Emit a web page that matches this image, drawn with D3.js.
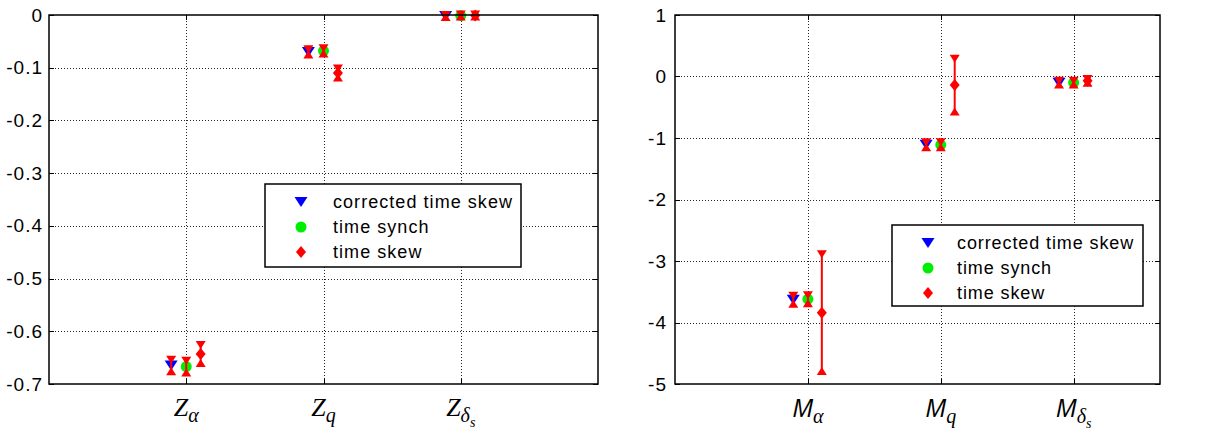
<!DOCTYPE html>
<html><head><meta charset="utf-8">
<script src="https://cdn.jsdelivr.net/npm/d3@7"></script>
<style>body{margin:0;background:#fff}svg{display:block}</style>
</head><body>
<svg id="c" width="1207" height="433"></svg>
<script>
// ---- data ----
const seriesNames = ["corrected time skew", "time synch", "time skew"];
const categories = [1, 2, 3];
const subLabels = ["α", "q", "δ"];
const subSubLabels = ["", "", "s"];

const zTicks = [0, -0.1, -0.2, -0.3, -0.4, -0.5, -0.6, -0.7];
const zTickLabels = ["0", "-0.1", "-0.2", "-0.3", "-0.4", "-0.5", "-0.6", "-0.7"];
const mTicks = [1, 0, -1, -2, -3, -4, -5];
const mTickLabels = ["1", "0", "-1", "-2", "-3", "-4", "-5"];

const zCorrected = [-0.665, -0.070, -0.002];
const zCorrectedErr = [0.011, 0.005, 0.002];
const zSynch = [-0.667, -0.068, -0.001];
const zSynchErr = [0.011, 0.005, 0.002];
const zSkew = [-0.643, -0.110, -0.001];
const zSkewErr = [0.017, 0.0085, 0.002];

const mCorrected = [-3.63, -1.11, -0.10];
const mCorrectedErr = [0.065, 0.04, 0.03];
const mSynch = [-3.62, -1.11, -0.10];
const mSynchErr = [0.065, 0.04, 0.03];
const mSkew = [-3.84, -0.14, -0.07];
const mSkewErr = [0.95, 0.43, 0.03];

const seriesOffsets = [-0.11, 0, 0.105];
const seriesColors = ["#0000ff", "#00ee00", "#ff0000"];
const errColor = "#ff0000";

// ---- drawing ----
const svg = d3.select("#c");
svg.append("rect").attr("width", 1207).attr("height", 433).attr("fill", "#fff");

function triPath(cx, cy, w, h, down) {
  const s = down ? 1 : -1;
  return `M${cx - w / 2},${cy - s * h / 2}L${cx + w / 2},${cy - s * h / 2}L${cx},${cy + s * h / 2}Z`;
}
function diamondPath(cx, cy, w, h) {
  return `M${cx},${cy - h / 2}L${cx + w / 2},${cy}L${cx},${cy + h / 2}L${cx - w / 2},${cy}Z`;
}
function drawMarker(g, type, cx, cy, color) {
  if (type === 0) g.append("path").attr("d", triPath(cx, cy, 13, 10, true)).attr("fill", color);
  else if (type === 1) g.append("circle").attr("cx", cx).attr("cy", cy).attr("r", 5.5).attr("fill", color);
  else g.append("path").attr("d", diamondPath(cx, cy, 10, 12)).attr("fill", color);
}

function panel(opt) {
  const x = d3.scaleLinear().domain(opt.xDomain).range(opt.xRange);
  const y = d3.scaleLinear().domain(opt.yDomain).range(opt.yRange);
  const g = svg.append("g");
  const [x0, x1] = opt.xRange, [y0, y1] = opt.yRange; // y0 bottom, y1 top

  // grid
  const grid = g.append("g").attr("stroke", "#000").attr("stroke-width", 1).attr("stroke-dasharray", "1,2").attr("opacity", 0.85);
  opt.yTicks.forEach(t => {
    if (y(t) > y1 + 1 && y(t) < y0 - 1)
      grid.append("line").attr("x1", x0).attr("x2", x1).attr("y1", Math.round(y(t)) + 0.5).attr("y2", Math.round(y(t)) + 0.5);
  });
  categories.forEach(c => {
    grid.append("line").attr("x1", Math.round(x(c)) + 0.5).attr("x2", Math.round(x(c)) + 0.5).attr("y1", y1).attr("y2", y0);
  });

  // y axis labels via d3 axis
  const yAxis = d3.axisLeft(y).tickValues(opt.yTicks).tickFormat((d, i) => opt.yTickLabels[i]).tickSize(0).tickPadding(opt.tickPad);
  const ya = g.append("g").attr("transform", `translate(${x0},0)`).call(yAxis);
  ya.select(".domain").remove();
  ya.selectAll("text").attr("font-family", "Liberation Sans, Arial, sans-serif").attr("font-size", 19).attr("fill", "#000").attr("letter-spacing", 1);

  // inner ticks
  const tk = g.append("g").attr("stroke", "#000").attr("stroke-width", 1);
  opt.yTicks.forEach(t => {
    const yy = Math.round(y(t)) + 0.5;
    tk.append("line").attr("x1", x0).attr("x2", x0 + 5).attr("y1", yy).attr("y2", yy);
    tk.append("line").attr("x1", x1).attr("x2", x1 - 5).attr("y1", yy).attr("y2", yy);
  });
  categories.forEach(c => {
    const xx = Math.round(x(c)) + 0.5;
    tk.append("line").attr("x1", xx).attr("x2", xx).attr("y1", y0).attr("y2", y0 - 5);
    tk.append("line").attr("x1", xx).attr("x2", xx).attr("y1", y1).attr("y2", y1 + 5);
  });

  // x labels
  categories.forEach((c, i) => {
    const t = g.append("text").attr("x", x(c) + opt.labelDx[i]).attr("y", opt.labelY).attr("text-anchor", "middle").attr("fill", "#000");
    t.append("tspan").text(opt.base).attr("font-family", opt.baseFont).attr("font-style", "italic").attr("font-size", opt.baseSize);
    t.append("tspan").text(subLabels[i]).attr("font-family", "Liberation Serif, serif").attr("font-style", "italic").attr("font-size", 20).attr("dy", 6);
    if (subSubLabels[i]) t.append("tspan").text(subSubLabels[i]).attr("font-family", "Liberation Serif, serif").attr("font-style", "italic").attr("font-size", 14).attr("dy", 5);
  });

  // data
  const dg = g.append("g");
  opt.series.forEach((s, si) => {
    s.vals.forEach((v, i) => {
      const cx = x(categories[i] + seriesOffsets[si]);
      drawMarker(dg, si, cx, y(v), seriesColors[si]);
      const hi = y(v + s.err[i]), lo = y(v - s.err[i]);
      dg.append("line").attr("x1", cx).attr("x2", cx).attr("y1", hi).attr("y2", lo).attr("stroke", errColor).attr("stroke-width", 2);
      dg.append("path").attr("d", triPath(cx, hi, 10, 8, true)).attr("fill", errColor);
      dg.append("path").attr("d", triPath(cx, lo, 10, 8, false)).attr("fill", errColor);
    });
  });

  // frame
  g.append("rect").attr("x", x0).attr("y", y1).attr("width", x1 - x0).attr("height", y0 - y1)
    .attr("fill", "none").attr("stroke", "#000").attr("stroke-width", 1.5);

  // legend
  const L = opt.legend;
  const lg = g.append("g");
  lg.append("rect").attr("x", L.x).attr("y", L.y).attr("width", L.w).attr("height", L.h).attr("fill", "#fff").attr("stroke", "#000").attr("stroke-width", 1.5);
  seriesNames.forEach((n, i) => {
    const yy = L.y + 18 + i * 25;
    drawMarker(lg, i, L.x + 36, yy, seriesColors[i]);
    lg.append("text").attr("x", L.x + L.tx).attr("y", yy + 6).text(n)
      .attr("font-family", "Liberation Sans, Arial, sans-serif").attr("font-size", 18).attr("letter-spacing", L.ls).attr("fill", "#000");
  });
}

panel({
  xDomain: [0, 4], xRange: [49, 598], yDomain: [-0.7, 0], yRange: [384, 15],
  yTicks: zTicks, yTickLabels: zTickLabels, tickPad: 6,
  base: "Z", baseFont: "Liberation Serif, serif", baseSize: 26, labelY: 416, labelDx: [0, 0, 0],
  series: [
    { vals: zCorrected, err: zCorrectedErr },
    { vals: zSynch, err: zSynchErr },
    { vals: zSkew, err: zSkewErr }
  ],
  legend: { x: 265, y: 184, w: 256, h: 83, tx: 68, ls: 1.05 }
});

panel({
  xDomain: [0, 3.65], xRange: [675, 1160], yDomain: [-5, 1], yRange: [384, 15],
  yTicks: mTicks, yTickLabels: mTickLabels, tickPad: 8,
  base: "M", baseFont: "Open Sans, sans-serif", baseSize: 25, labelY: 417, labelDx: [0, 0, 0],
  series: [
    { vals: mCorrected, err: mCorrectedErr },
    { vals: mSynch, err: mSynchErr },
    { vals: mSkew, err: mSkewErr }
  ],
  legend: { x: 892, y: 225, w: 251, h: 81, tx: 65, ls: 0.9 }
});
</script>
</body></html>
